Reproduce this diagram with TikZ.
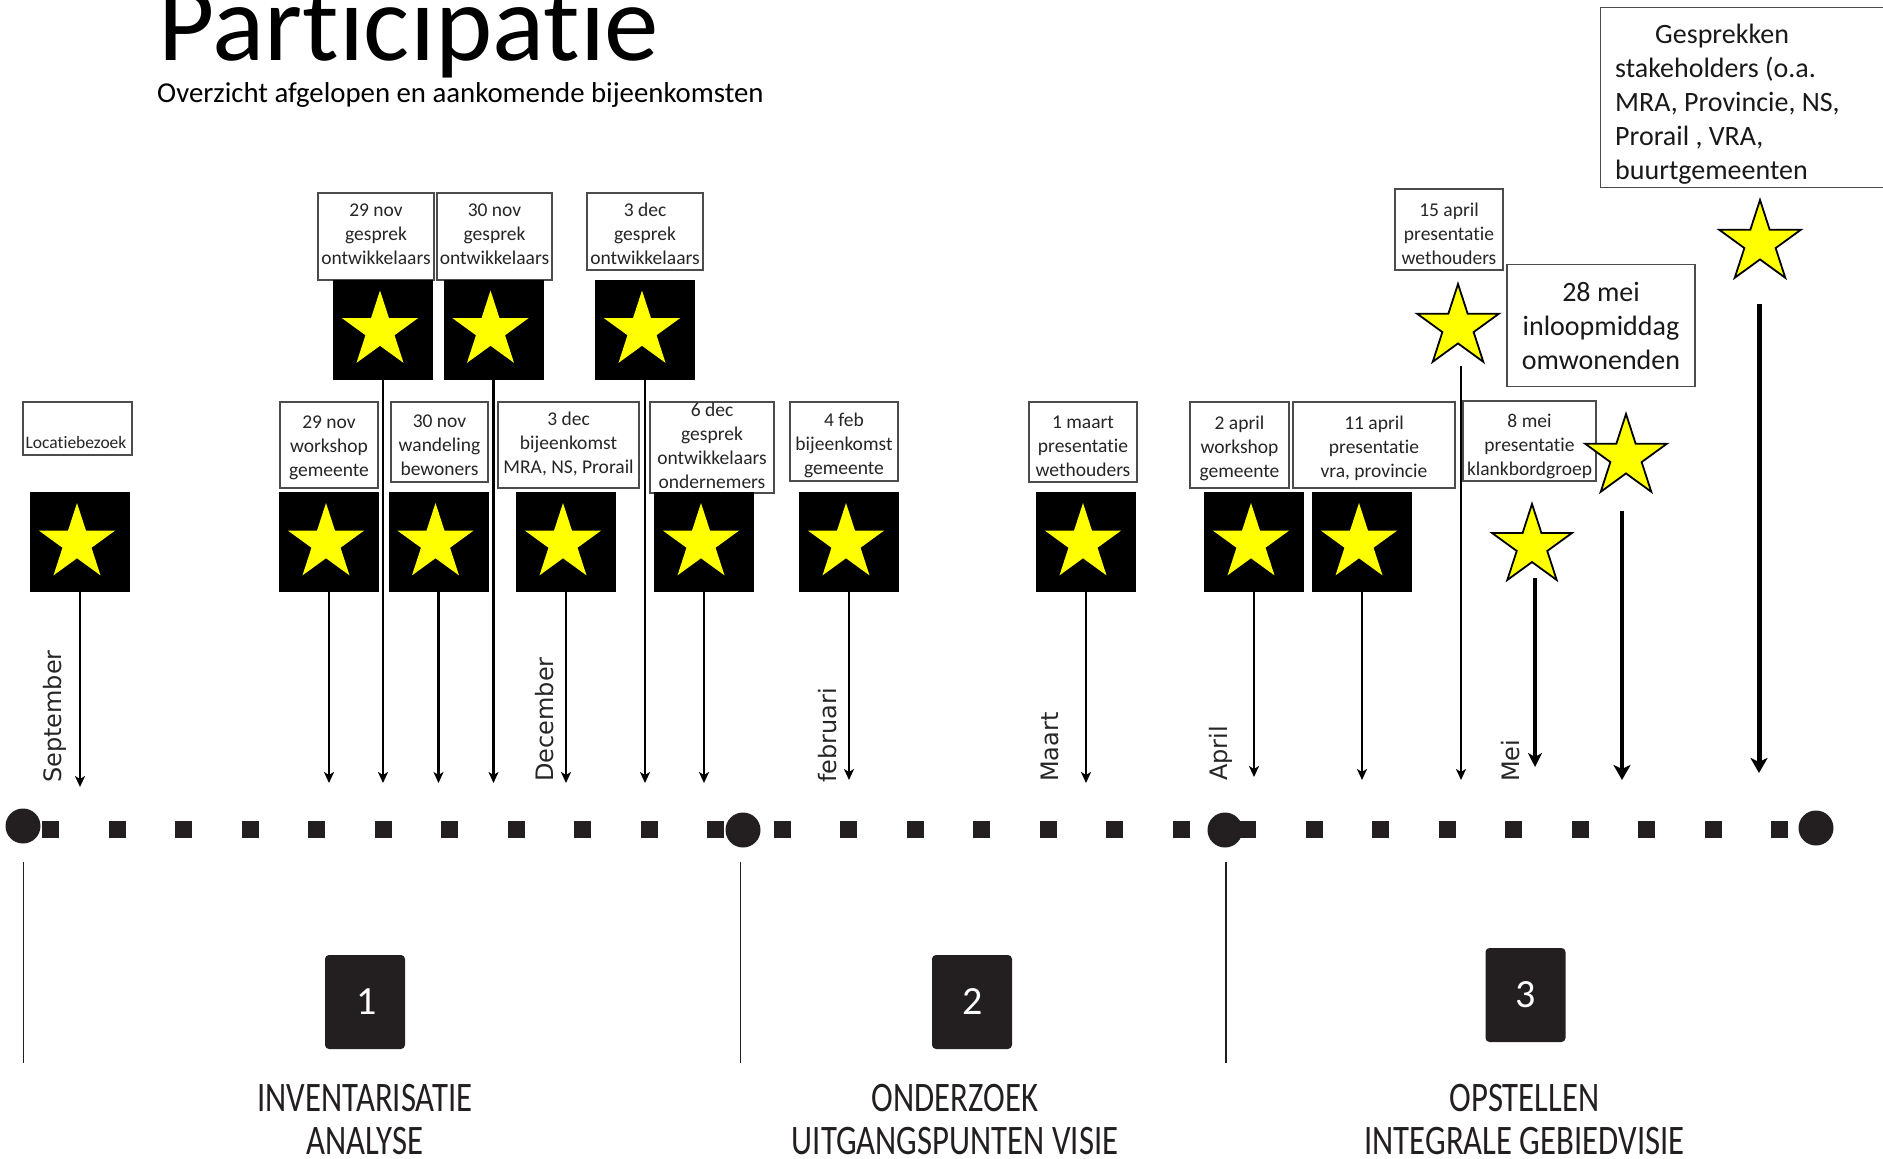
\documentclass[tikz,border=0pt]{standalone}
\usepackage{fontspec}
\setmainfont{Carlito}[Ligatures=NoCommon]
\newfontfamily\monthfont{DejaVu Sans}
\usetikzlibrary{shapes.geometric,arrows.meta}
\definecolor{ink}{HTML}{231F20}
\definecolor{staryellow}{HTML}{FFFF00}
\begin{document}
\begin{tikzpicture}[x=1pt,y=-1pt,
  evbox/.style={draw=black!70, line width=1.3pt, fill=white, inner sep=0pt},
  boxtext/.style={align=center, inner sep=0pt, anchor=north,
    font=\fontsize{19.5}{24}\selectfont, text=black!85},
  bigbox/.style={evbox, align=center, font=\fontsize{28}{34}\selectfont, text=black!90},
  blacksq/.style={fill=black, minimum width=100pt, minimum height=100pt, inner sep=0pt},
  sqstar/.style={star, star points=5, star point ratio=2.618, fill=staryellow,
    minimum size=80pt, inner sep=0pt},
  bigstar/.style={star, star points=5, star point ratio=2.618, fill=staryellow,
    draw=black, line width=1.8pt, minimum size=86pt, inner sep=0pt},
  arr/.style={line width=2.5pt, -{Stealth[length=11pt,width=10pt,inset=3pt]}},
  midarr/.style={line width=3.3pt, -{Stealth[length=14pt,width=14pt,inset=4pt]}},
  thickarr/.style={line width=4.5pt, -{Stealth[length=15pt,width=17pt,inset=4pt]}},
  month/.style={rotate=90, anchor=base west, inner sep=0pt,
    font=\monthfont\fontsize{24}{28}\selectfont, text=black!85},
  dot/.style={circle, fill=ink, minimum size=35pt, inner sep=0pt},
  phasebox/.style={fill=ink, rounded corners=4pt, minimum width=80pt, minimum height=94pt,
    inner sep=0pt, text=white, font=\fontsize{40}{48}\selectfont},
  phasetext/.style={align=center, inner sep=0pt, text=ink, font=\fontsize{42}{43}\selectfont},
  sep/.style={draw=ink, line width=1.5pt}
]
\useasboundingbox (0,0) rectangle (1883,1159);

% title
\node[anchor=base west, inner sep=0pt, font=\fontsize{109}{120}\selectfont] (title) at (158,60) {Participatie};
\node[anchor=base west, inner sep=0pt, font=\fontsize{28.8}{34}\selectfont] (subtitle) at (157,102) {Overzicht afgelopen en aankomende bijeenkomsten};

% upper row: boxes + squares
\node[evbox, minimum width=116pt, minimum height=87pt] (b1) at (376,236.5) {};
\node[boxtext, yshift=-11.5pt] (b1t) at (b1.north) {29 nov\\gesprek\\ontwikkelaars};
\node[evbox, minimum width=115pt, minimum height=87pt] (b2) at (494.5,236.5) {};
\node[boxtext, yshift=-11.5pt] (b2t) at (b2.north) {30 nov\\gesprek\\ontwikkelaars};
\node[evbox, minimum width=116pt, minimum height=77pt] (b3) at (645,231.5) {};
\node[boxtext, yshift=-10.5pt] (b3t) at (b3.north) {3 dec\\gesprek\\ontwikkelaars};

\node[blacksq] (usq1) at (383,329.5) {};
\node[blacksq] (usq2) at (493.5,329.5) {};
\node[blacksq] (usq3) at (645,329.5) {};
\node[sqstar] (ust1) at (380,330.5) {};
\node[sqstar] (ust2) at (490.5,330.5) {};
\node[sqstar] (ust3) at (642,330.5) {};

% lower row boxes
\node[evbox, minimum width=109pt, minimum height=53pt] (locbox) at (77.5,428.5) {};
\node[anchor=base, inner sep=0pt, font=\fontsize{17.5}{21}\selectfont, text=black!85] (loctext) at (76,448.5) {Locatiebezoek};
\node[evbox, minimum width=98pt, minimum height=86pt] (bA) at (329,445) {};
\node[boxtext, yshift=-14pt] (bAt) at (bA.north) {29 nov\\workshop\\gemeente};
\node[evbox, minimum width=97pt, minimum height=80pt] (bB) at (439.5,442) {};
\node[boxtext, yshift=-13.5pt] (bBt) at (bB.north) {30 nov\\wandeling\\bewoners};
\node[evbox, minimum width=141pt, minimum height=86pt] (bC) at (568.5,445) {};
\node[boxtext, yshift=-10pt] (bCt) at (bC.north) {3 dec\\bijeenkomst\\MRA, NS, Prorail};
\node[evbox, minimum width=124pt, minimum height=91pt] (bD) at (712,447.5) {};
\node[boxtext, yshift=-1pt] (bDt) at (bD.north) {6 dec\\gesprek\\ontwikkelaars\\ondernemers};
\node[evbox, minimum width=108pt, minimum height=79pt] (bE) at (844,441.5) {};
\node[boxtext, yshift=-11pt] (bEt) at (bE.north) {4 feb\\bijeenkomst\\gemeente};
\node[evbox, minimum width=108pt, minimum height=80pt] (bF) at (1083,442) {};
\node[boxtext, yshift=-14pt] (bFt) at (bF.north) {1 maart\\presentatie\\wethouders};
\node[evbox, minimum width=99pt, minimum height=86pt] (bG) at (1239.5,445) {};
\node[boxtext, yshift=-14pt] (bGt) at (bG.north) {2 april\\workshop\\gemeente};
\node[evbox, minimum width=162pt, minimum height=86pt] (bH) at (1374,445) {};
\node[boxtext, yshift=-14pt] (bHt) at (bH.north) {11 april\\presentatie\\vra, provincie};
\node[evbox, minimum width=133pt, minimum height=80pt] (bI) at (1529.5,441) {};
\node[boxtext, yshift=-14pt] (bIt) at (bI.north) {8 mei\\presentatie\\klankbordgroep};
\node[evbox, minimum width=108pt, minimum height=81pt] (bJ) at (1449,229.5) {};
\node[boxtext, yshift=-14pt] (bJt) at (bJ.north) {15 april\\presentatie\\wethouders};
\node[bigbox, minimum width=188pt, minimum height=122pt] (bK) at (1601,325.5) {28 mei\\inloopmiddag\\omwonenden};
\node[evbox, minimum width=300pt, minimum height=180pt, anchor=north west] (gbox) at (1600,7) {};
\node[anchor=north west, align=left, inner sep=0pt, font=\fontsize{28}{34}\selectfont, text=black!90] (gtext) at (1615,24) {\hspace*{40pt}Gesprekken\\stakeholders (o.a.\\MRA, Provincie, NS,\\Prorail , VRA,\\buurtgemeenten};

% lower squares
\foreach \n/\x in {sqL/80, sqA/329, sqB/438.5, sqC/566, sqD/704, sqE/849, sqF/1086, sqG/1254, sqH/1362}{
  \node[blacksq] (\n) at (\x,542) {};
  \node[sqstar] (\n s) at (\x-3,543) {};
}

% free stars
\node[bigstar] (stC) at (1458,327) {};
\node[bigstar] (stD) at (1760,243) {};
\node[bigstar] (stA) at (1626,457) {};
\node[bigstar, minimum size=84pt] (stB) at (1532,546) {};

% arrow end points
\coordinate (eL) at (80,787);
\coordinate (eA) at (329,783);
\coordinate (eU1) at (383,783);
\coordinate (eB) at (438.5,783);
\coordinate (eU2) at (493.5,783);
\coordinate (eC) at (566,783);
\coordinate (eU3) at (645,783);
\coordinate (eD) at (704,783);
\coordinate (eE) at (849,780);
\coordinate (eF) at (1086,783);
\coordinate (eG) at (1254,777);
\coordinate (eH) at (1362,780);
\coordinate (sC) at (1461,366);
\coordinate (eCC) at (1461,780);
\coordinate (sA) at (1622,511);
\coordinate (eAA) at (1622,780);
\coordinate (sB) at (1535,578);
\coordinate (eBB) at (1535,767);
\coordinate (sD) at (1759,304);
\coordinate (eDD) at (1759,773);

\draw[arr] (sqL.south) -- (eL);
\draw[arr] (sqA.south) -- (eA);
\draw[arr] (usq1.south) -- (eU1);
\draw[arr] (sqB.south) -- (eB);
\draw[arr] (usq2.south) -- (eU2);
\draw[arr] (sqC.south) -- (eC);
\draw[arr] (usq3.south) -- (eU3);
\draw[arr] (sqD.south) -- (eD);
\draw[arr] (sqE.south) -- (eE);
\draw[arr] (sqF.south) -- (eF);
\draw[arr] (sqG.south) -- (eG);
\draw[arr] (sqH.south) -- (eH);
\draw[arr] (sC) -- (eCC);
\draw[thickarr] (sA) -- (eAA);
\draw[midarr] (sB) -- (eBB);
\draw[thickarr, line width=5pt] (sD) -- (eDD);

% months
\node[month] (mSep) at (61,783) {September};
\node[month] (mDec) at (553,782) {December};
\node[month] (mFeb) at (836,783) {februari};
\node[month] (mMar) at (1058,782) {Maart};
\node[month] (mApr) at (1227,781) {April};
\node[month] (mMei) at (1519,782) {Mei};

% timeline
\foreach \i in {0,...,26}{
  \fill[ink] ({50.5+66.5*\i-8.5},821) rectangle ++(17,17);
}
\node[dot] (c1) at (23,826) {};
\node[dot] (c2) at (743,830) {};
\node[dot] (c3) at (1225,830) {};
\node[dot] (c4) at (1816,828) {};

% separators
\draw[sep] (23.5,862) -- (23.5,1063);
\draw[sep] (740.5,862) -- (740.5,1063);
\draw[sep] (1226,862) -- (1226,1063);

% phases
\node[phasebox] (p1) at (365,1002) {\hspace*{3pt}1};
\node[phasebox] (p2) at (972,1002) {\hspace*{2pt}2};
\node[phasebox] (p3) at (1525.5,995) {3};
\node[phasetext] (t1) at (365,1120) {\scalebox{0.78}[1]{INVENTARISATIE}\\\scalebox{0.78}[1]{ANALYSE}};
\node[phasetext] (t2) at (955,1120) {\scalebox{0.78}[1]{ONDERZOEK}\\\scalebox{0.78}[1]{UITGANGSPUNTEN VISIE}};
\node[phasetext] (t3) at (1524.5,1120) {\scalebox{0.78}[1]{OPSTELLEN}\\\scalebox{0.78}[1]{INTEGRALE GEBIEDVISIE}};
\end{tikzpicture}
\end{document}
